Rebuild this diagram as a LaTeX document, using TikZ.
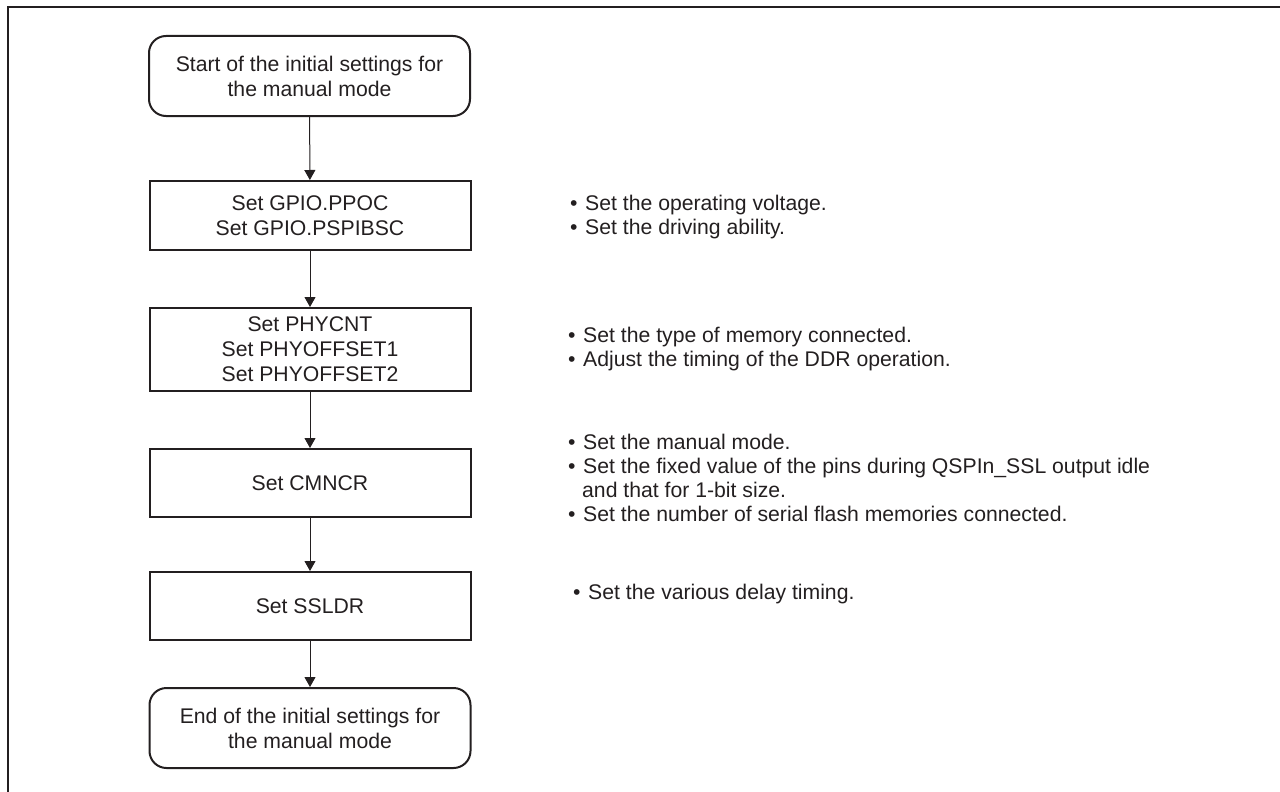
\documentclass[tikz,border=0pt]{standalone}
\usepackage{fontspec}
\setmainfont{Liberation Sans}
\usetikzlibrary{arrows.meta}
\definecolor{ink}{HTML}{231F20}
\newcommand{\bul}{\makebox[15pt][l]{\textbullet}}
\newcommand{\cont}{\hspace*{14pt}}
\begin{document}
\begin{tikzpicture}[x=1pt,y=-1pt,
  every node/.style={text=ink},
  txt/.style={font=\fontsize{21.2}{25}\selectfont},
  procbox/.style={draw=ink,line width=2pt,minimum width=321pt,txt,align=center,inner sep=0pt},
  termbox/.style={procbox,rounded corners=17pt},
  note/.style={font=\fontsize{21.2}{24}\selectfont,align=left,anchor=west,inner sep=0pt},
  flow/.style={draw=ink,line width=1pt,-{Triangle[width=11pt,length=10pt]}}]
\useasboundingbox (0,0) rectangle (1280,792);
% outer frame (only top and left edges fall inside the page)
\draw[ink,line width=2pt] (7.5,800) -- (7.5,7.5) -- (1290,7.5);

% flow chart
\node[termbox,minimum height=80pt] (start) at (309.5,76) {Start of the initial settings for\\the manual mode};
\node[procbox,minimum height=69pt] (gpio) at (310,215.5) {Set GPIO.PPOC\\Set GPIO.PSPIBSC};
\node[procbox,minimum height=83pt] (phy) at (310,349.5) {Set PHYCNT\\Set PHYOFFSET1\\Set PHYOFFSET2};
\node[procbox,minimum height=68pt] (cmn) at (310,483) {Set CMNCR};
\node[procbox,minimum height=68pt] (ssl) at (310,606) {Set SSLDR};
\node[termbox,minimum height=80pt] (end) at (310,728) {End of the initial settings for\\the manual mode};

\draw[flow] (start) -- (gpio);
\draw[flow] (gpio) -- (phy);
\draw[flow] (phy) -- (cmn);
\draw[flow] (cmn) -- (ssl);
\draw[flow] (ssl) -- (end);

% notes
\node[note] (n1) at (570,217) {\bul Set the operating voltage.\\\bul Set the driving ability.};
\node[note] (n2) at (568,349.5) {\bul Set the type of memory connected.\\\bul Adjust the timing of the DDR operation.};
\node[note] (n3) at (568,477.5) {\bul Set the manual mode.\\\bul Set the fixed value of the pins during QSPIn\_SSL output idle\\\cont and that for 1-bit size.\\\bul Set the number of serial flash memories connected.};
\node[note] (n4) at (573,594) {\bul Set the various delay timing.};
\end{tikzpicture}
\end{document}
